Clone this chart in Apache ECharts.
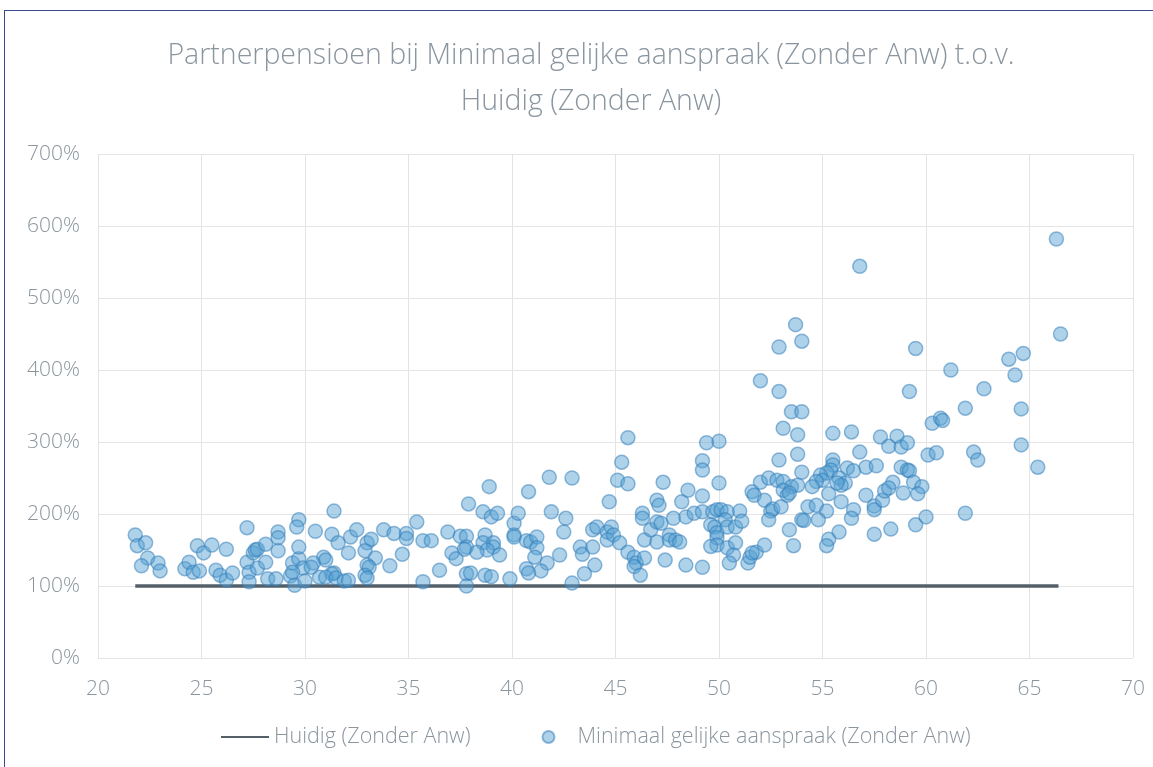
<!DOCTYPE html>
<html>
<head>
<meta charset="utf-8">
<script src="https://cdn.jsdelivr.net/npm/echarts@6/dist/echarts.min.js"></script>
<style>
html, body { margin: 0; padding: 0; background: #fff; overflow: hidden; }
#frame { position: absolute; left: 4px; top: 10px; width: 1200px; height: 800px;
  border-left: 1px solid #3b4a8c; border-top: 1px solid #3b4a8c; }
#chart { position: absolute; left: 0; top: 0; width: 1153px; height: 767px; }
</style>
</head>
<body>
<div id="frame"></div>
<div id="chart"></div>
<script>
// leeftijd (x) en partnerpensioen t.o.v. huidig in % (y)
let ages = [
  21.8, 21.9, 22.3, 22.4, 22.1, 22.9, 23.0, 24.2, 24.4, 24.6, 24.9, 24.8, 25.1, 25.5, 25.7, 25.9, 26.2, 26.2, 26.5, 27.2,
  27.2, 27.3, 27.3, 27.5, 27.6, 27.7, 27.7, 28.1, 28.2, 28.1, 28.6, 28.7, 28.7, 28.7, 29.3, 29.4, 29.5, 29.7, 29.7, 29.6,
  29.7, 29.9, 30.0, 29.4,
  31.4, 30.5, 31.3, 31.6, 32.2, 32.5, 32.1, 33.0, 33.2, 32.9, 33.4, 33.0, 33.1, 32.9, 33.0, 33.8, 34.3, 34.9, 34.9, 34.7,
  34.1, 35.4, 35.7, 36.1, 35.7, 36.5, 30.9, 31.0, 30.4, 30.3, 31.4, 31.3, 30.7, 31.0, 31.5, 31.9, 32.1,
  36.9, 37.5, 37.8, 37.8, 37.7, 37.9, 37.1, 37.3, 38.6, 38.9, 39.0, 39.3, 38.7, 38.6, 39.1, 39.1, 38.8, 39.4, 38.3, 37.8,
  38.0, 37.8, 38.7, 39.0, 39.9, 40.1, 40.1, 40.1, 40.3, 40.8, 40.7, 40.9, 41.2, 41.2, 41.1, 41.7, 41.4, 40.7, 40.8, 41.9,
  41.8,
  42.9, 42.6, 42.5, 42.3, 42.9, 43.3, 43.4, 43.9, 44.0, 43.5, 43.9, 44.1, 44.6, 44.8, 44.6, 44.9, 45.2, 45.6, 45.9, 46.0,
  45.9, 46.2, 46.4, 45.1, 45.3, 45.6, 45.6, 44.7, 46.3, 46.3, 46.4, 46.7, 47.0, 47.1, 47.0, 47.2, 47.0, 47.3, 47.4, 47.6,
  47.6, 47.8, 47.9, 48.1, 48.2, 48.5, 48.4, 48.4, 48.8, 49.2, 49.2, 49.2, 49.2, 49.2, 49.4, 50.0, 50.0, 49.6, 49.7, 49.9,
  50.1, 50.4, 49.8, 49.9, 49.9, 49.9, 49.6, 50.3, 50.4, 50.4, 50.8, 50.8, 51.0, 51.1, 50.7, 50.5, 51.4, 51.5, 51.8, 52.2,
  51.6, 51.7, 52.0, 52.2, 52.4, 52.5,
  53.7, 52.9, 54.0, 52.0, 52.9, 53.5, 54.0, 53.1, 53.8, 52.9, 53.8, 54.0, 55.5, 56.4, 56.8, 57.8, 58.6, 58.2, 58.8, 59.1,
  59.5, 59.2, 60.3, 60.7, 60.8, 60.1, 60.5, 55.5, 55.5, 55.4, 55.2, 54.9, 55.0, 54.7, 54.5, 56.2, 56.5, 57.1, 57.6, 55.8,
  56.1, 55.9, 55.7, 55.3, 55.9, 56.5, 56.4, 55.8, 55.3, 55.2, 57.1, 57.5, 57.5, 57.5, 58.3, 57.9, 58.0, 58.4, 58.2, 58.8,
  59.1, 59.2, 59.4, 59.8, 58.9, 59.6, 59.5, 60.0,
  52.8, 53.1, 53.5, 53.8, 53.1, 53.3, 53.4, 52.6, 53.0, 52.4, 54.3, 54.7, 55.2, 54.0, 54.8, 53.4, 53.6, 51.6, 54.1,
  66.3, 66.5, 64.0, 64.7, 64.3, 61.2, 62.8, 61.9, 64.6, 62.3, 62.5, 64.6, 65.4, 61.9, 56.8
];
let ratios = [
  171, 156, 160, 139, 128, 132, 121, 124, 133, 119, 121, 156, 146, 157, 122, 115, 151, 108, 118, 181,
  133, 119, 106, 146, 150, 125, 151, 158, 110, 133, 110, 175, 167, 149, 114, 132, 101, 138, 192, 182,
  154, 125, 107, 119,
  204, 176, 172, 160, 168, 178, 146, 160, 165, 149, 139, 129, 126, 115, 111, 178, 173, 173, 166, 144,
  128, 189, 163, 163, 106, 122, 140, 136, 132, 126, 118, 117, 112, 112, 111, 107, 108,
  175, 169, 169, 154, 151, 214, 146, 138, 203, 238, 196, 201, 171, 160, 160, 154, 150, 143, 147, 117,
  118, 100, 115, 113, 110, 187, 171, 168, 201, 231, 163, 161, 168, 153, 140, 132, 121, 124, 118, 203,
  251,
  250, 194, 175, 143, 104, 154, 144, 154, 129, 117, 178, 182, 175, 182, 164, 171, 160, 147, 140, 132,
  127, 115, 139, 247, 272, 306, 242, 217, 201, 194, 164, 178, 219, 212, 189, 187, 161, 244, 136, 171,
  164, 194, 164, 161, 217, 233, 196, 129, 201, 274, 261, 225, 203, 126, 299, 301, 243, 185, 203, 206,
  206, 203, 182, 174, 167, 157, 155, 192, 182, 153, 182, 160, 204, 190, 143, 132, 132, 140, 147, 157,
  231, 226, 244, 219, 250, 204,
  463, 432, 440, 385, 370, 342, 342, 319, 310, 275, 283, 258, 312, 314, 286, 307, 308, 294, 293, 299,
  430, 370, 326, 333, 330, 282, 285, 275, 268, 261, 257, 254, 247, 245, 238, 264, 260, 265, 267, 250,
  243, 240, 243, 228, 217, 206, 194, 175, 165, 156, 226, 211, 206, 172, 179, 219, 232, 244, 236, 265,
  261, 260, 244, 238, 229, 228, 185, 196,
  247, 245, 238, 240, 233, 226, 229, 207, 210, 192, 210, 212, 204, 192, 192, 178, 156, 146, 191,
  582, 450, 415, 423, 393, 400, 374, 347, 346, 286, 275, 296, 265, 201, 544
];
// huidige situatie: altijd 100%
let lineAges = [21.8, 66.4];
let lineRatios = [100, 100];

let xTicks = [20, 70, 5];   // min, max, interval
let yTicks = [0, 700, 100];

let scatterData = ages.map((a, i) => [a, ratios[i]]);
let lineData = lineAges.map((a, i) => [a, lineRatios[i]]);

let grey = '#8a959e';
let font = 'Open Sans';

let myc = echarts.init(document.getElementById('chart'));
let options = {
  animation: false,
  title: {
    text: 'Partnerpensioen bij Minimaal gelijke aanspraak (Zonder Anw) t.o.v.\nHuidig (Zonder Anw)',
    left: 586,
    top: 28,
    textAlign: 'center',
    textStyle: {
      color: grey,
      fontFamily: font,
      fontWeight: 300,
      fontSize: 28.5,
      lineHeight: 46
    }
  },
  grid: {
    left: 98,
    right: 20,
    top: 154,
    bottom: 109
  },
  legend: {
    bottom: 14,
    left: 215,
    itemGap: 71,
    itemWidth: 48,
    itemHeight: 12,
    textStyle: { color: grey, fontFamily: font, fontWeight: 300, fontSize: 21.5 },
    data: [
      { name: 'Huidig (Zonder Anw)', itemStyle: { opacity: 0 } },
      { name: 'Minimaal gelijke aanspraak (Zonder Anw)', icon: 'circle' }
    ]
  },
  xAxis: {
    type: 'value',
    min: xTicks[0],
    max: xTicks[1],
    interval: xTicks[2],
    axisLine: { show: false },
    axisTick: { show: false },
    axisLabel: { color: grey, fontFamily: font, fontWeight: 300, fontSize: 21, margin: 21 },
    splitLine: { show: true, lineStyle: { color: '#e4e4e4', width: 1 } }
  },
  yAxis: {
    type: 'value',
    min: yTicks[0],
    max: yTicks[1],
    interval: yTicks[2],
    axisLine: { show: false },
    axisTick: { show: false },
    axisLabel: {
      color: grey, fontFamily: font, fontWeight: 300, fontSize: 21, margin: 18,
      formatter: v => v + '%'
    },
    splitLine: { lineStyle: { color: '#e4e4e4', width: 1 } }
  },
  series: [
    {
      name: 'Huidig (Zonder Anw)',
      type: 'line',
      data: lineData,
      symbol: 'none',
      z: 1,
      lineStyle: { color: '#535f69', width: 3.5 },
      itemStyle: { color: '#535f69' }
    },
    {
      name: 'Minimaal gelijke aanspraak (Zonder Anw)',
      type: 'scatter',
      data: scatterData,
      symbolSize: 14,
      z: 2,
      itemStyle: {
        color: 'rgba(86,160,212,0.6)',
        borderColor: 'rgba(50,125,185,0.65)',
        borderWidth: 1.5
      }
    }
  ]
};
myc.setOption(options);
</script>
</body>
</html>
